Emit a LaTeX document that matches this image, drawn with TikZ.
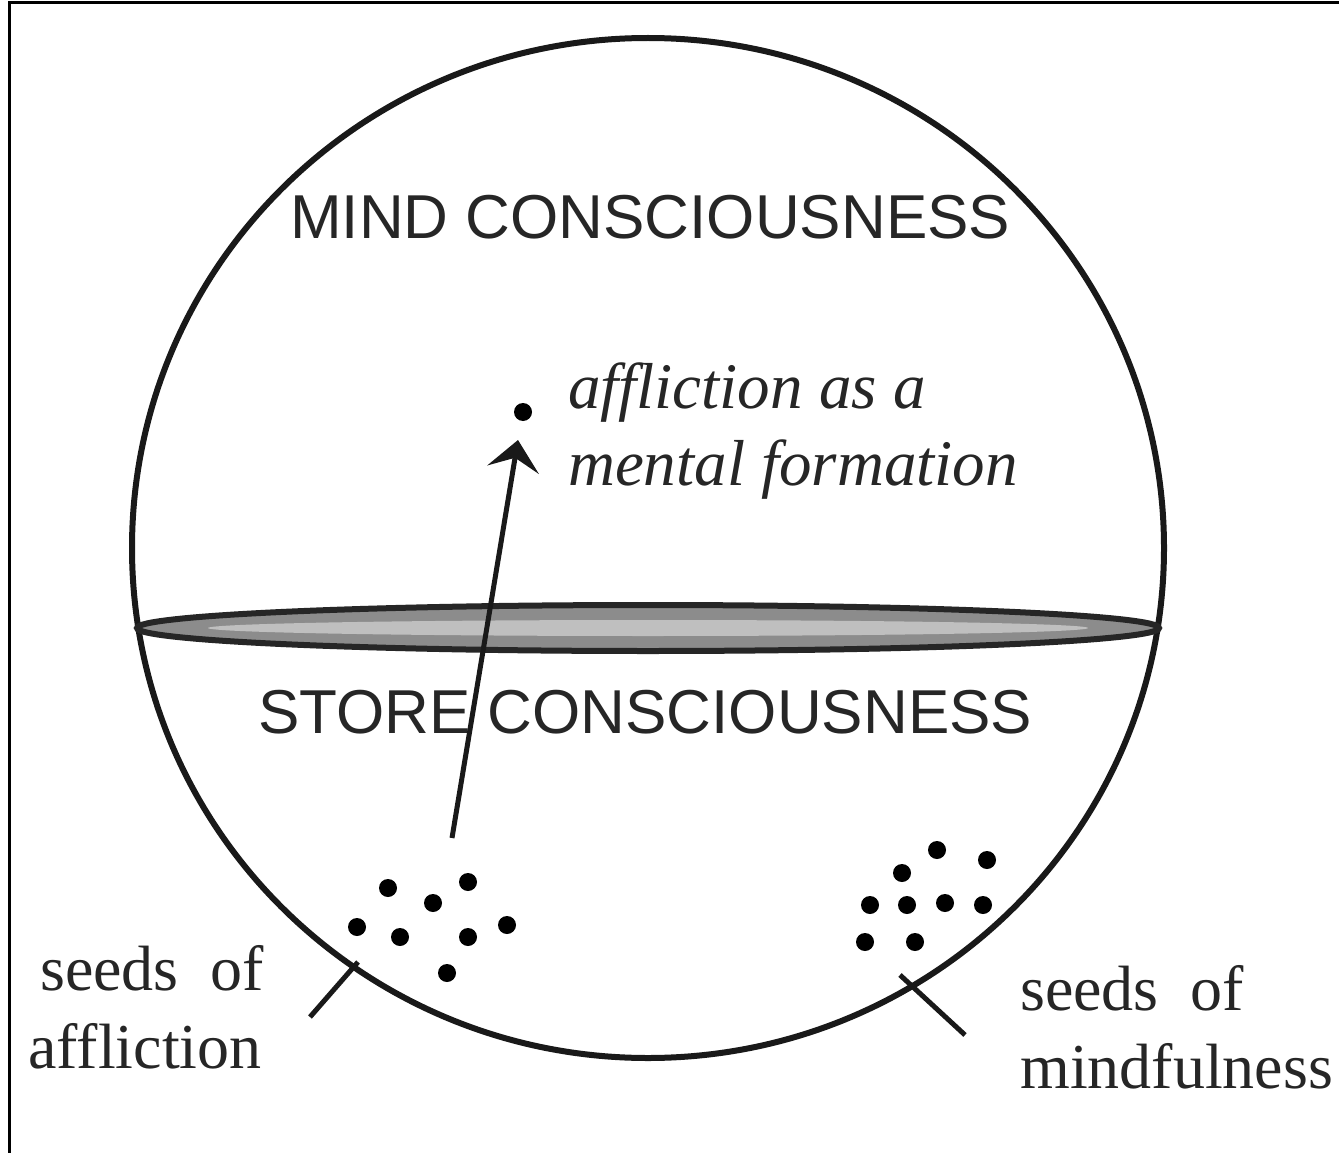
\documentclass[tikz,border=0pt]{standalone}
\usepackage{fontspec}
\setmainfont{Liberation Serif}
\newfontfamily\capsfont{Liberation Sans}
\usetikzlibrary{arrows.meta}
\begin{document}
\begin{tikzpicture}[x=1pt,y=-1pt,
  heading/.style={font=\capsfont\fontsize{62}{62}\selectfont, text=black!85, inner sep=0pt, anchor=base west},
  itlabel/.style={font=\itshape\fontsize{65}{65}\selectfont, text=black!85, inner sep=0pt, anchor=base west},
  seedlabel/.style={font=\fontsize{64}{64}\selectfont, text=black!85, inner sep=0pt, anchor=base west},
  seed/.style={circle, fill=black, inner sep=0pt, minimum size=18pt},
  pointer/.style={line width=5pt, black!90},
  outline/.style={line width=6pt, black!90}]
\useasboundingbox (0,0) rectangle (1339,1153);
\fill[white] (0,0) rectangle (1339,1153);
% frame
\draw[line width=3pt] (9,1153) -- (9,3) -- (1339,3);
% big circle
\draw[outline] (648,548) ellipse [x radius=516, y radius=510];
% lens between the two layers
\draw[line width=6pt, black!85, fill=black!45] (648,628) ellipse [x radius=511, y radius=23];
\fill[black!25] (648,628) ellipse [x radius=440, y radius=8];
% headings
\node[heading] (mind) at (290,238) {MIND CONSCIOUSNESS};
\node[heading] (store) at (258,733) {STORE CONSCIOUSNESS};
% mental formation
\node[seed] (mf) at (523,412) {};
\node[itlabel] (mflabel1) at (568,408) {affliction as a};
\node[itlabel] (mflabel2) at (568,485) {mental formation};
\coordinate (arrowstart) at (452,838);
\coordinate (arrowend) at (518,440);
\draw[line width=5pt, black!90, -{Stealth[length=30pt,width=52pt,inset=12pt]}] (arrowstart) -- (arrowend);
% seeds of affliction
\node[seed] (a1) at (388,888) {};
\node[seed] (a2) at (468,882) {};
\node[seed] (a3) at (433,903) {};
\node[seed] (a4) at (357,927) {};
\node[seed] (a5) at (400,937) {};
\node[seed] (a6) at (468,937) {};
\node[seed] (a7) at (507,925) {};
\node[seed] (a8) at (447,973) {};
% seeds of mindfulness
\node[seed] (m1) at (937,850) {};
\node[seed] (m2) at (987,860) {};
\node[seed] (m3) at (902,873) {};
\node[seed] (m4) at (870,905) {};
\node[seed] (m5) at (907,905) {};
\node[seed] (m6) at (945,903) {};
\node[seed] (m7) at (983,905) {};
\node[seed] (m8) at (865,942) {};
\node[seed] (m9) at (915,942) {};
% labels
\node[seedlabel] (sa1) at (40,990) {seeds\ \ of};
\node[seedlabel] (sa2) at (28,1068) {affliction};
\node[seedlabel] (sm1) at (1020,1010) {seeds\ \ of};
\node[seedlabel] (sm2) at (1020,1088) {mindfulness};
% pointers
\coordinate (pa1) at (310,1017);
\coordinate (pa2) at (358,962);
\draw[pointer] (pa1) -- (pa2);
\coordinate (pm1) at (900,975);
\coordinate (pm2) at (965,1035);
\draw[pointer] (pm1) -- (pm2);
\end{tikzpicture}
\end{document}
